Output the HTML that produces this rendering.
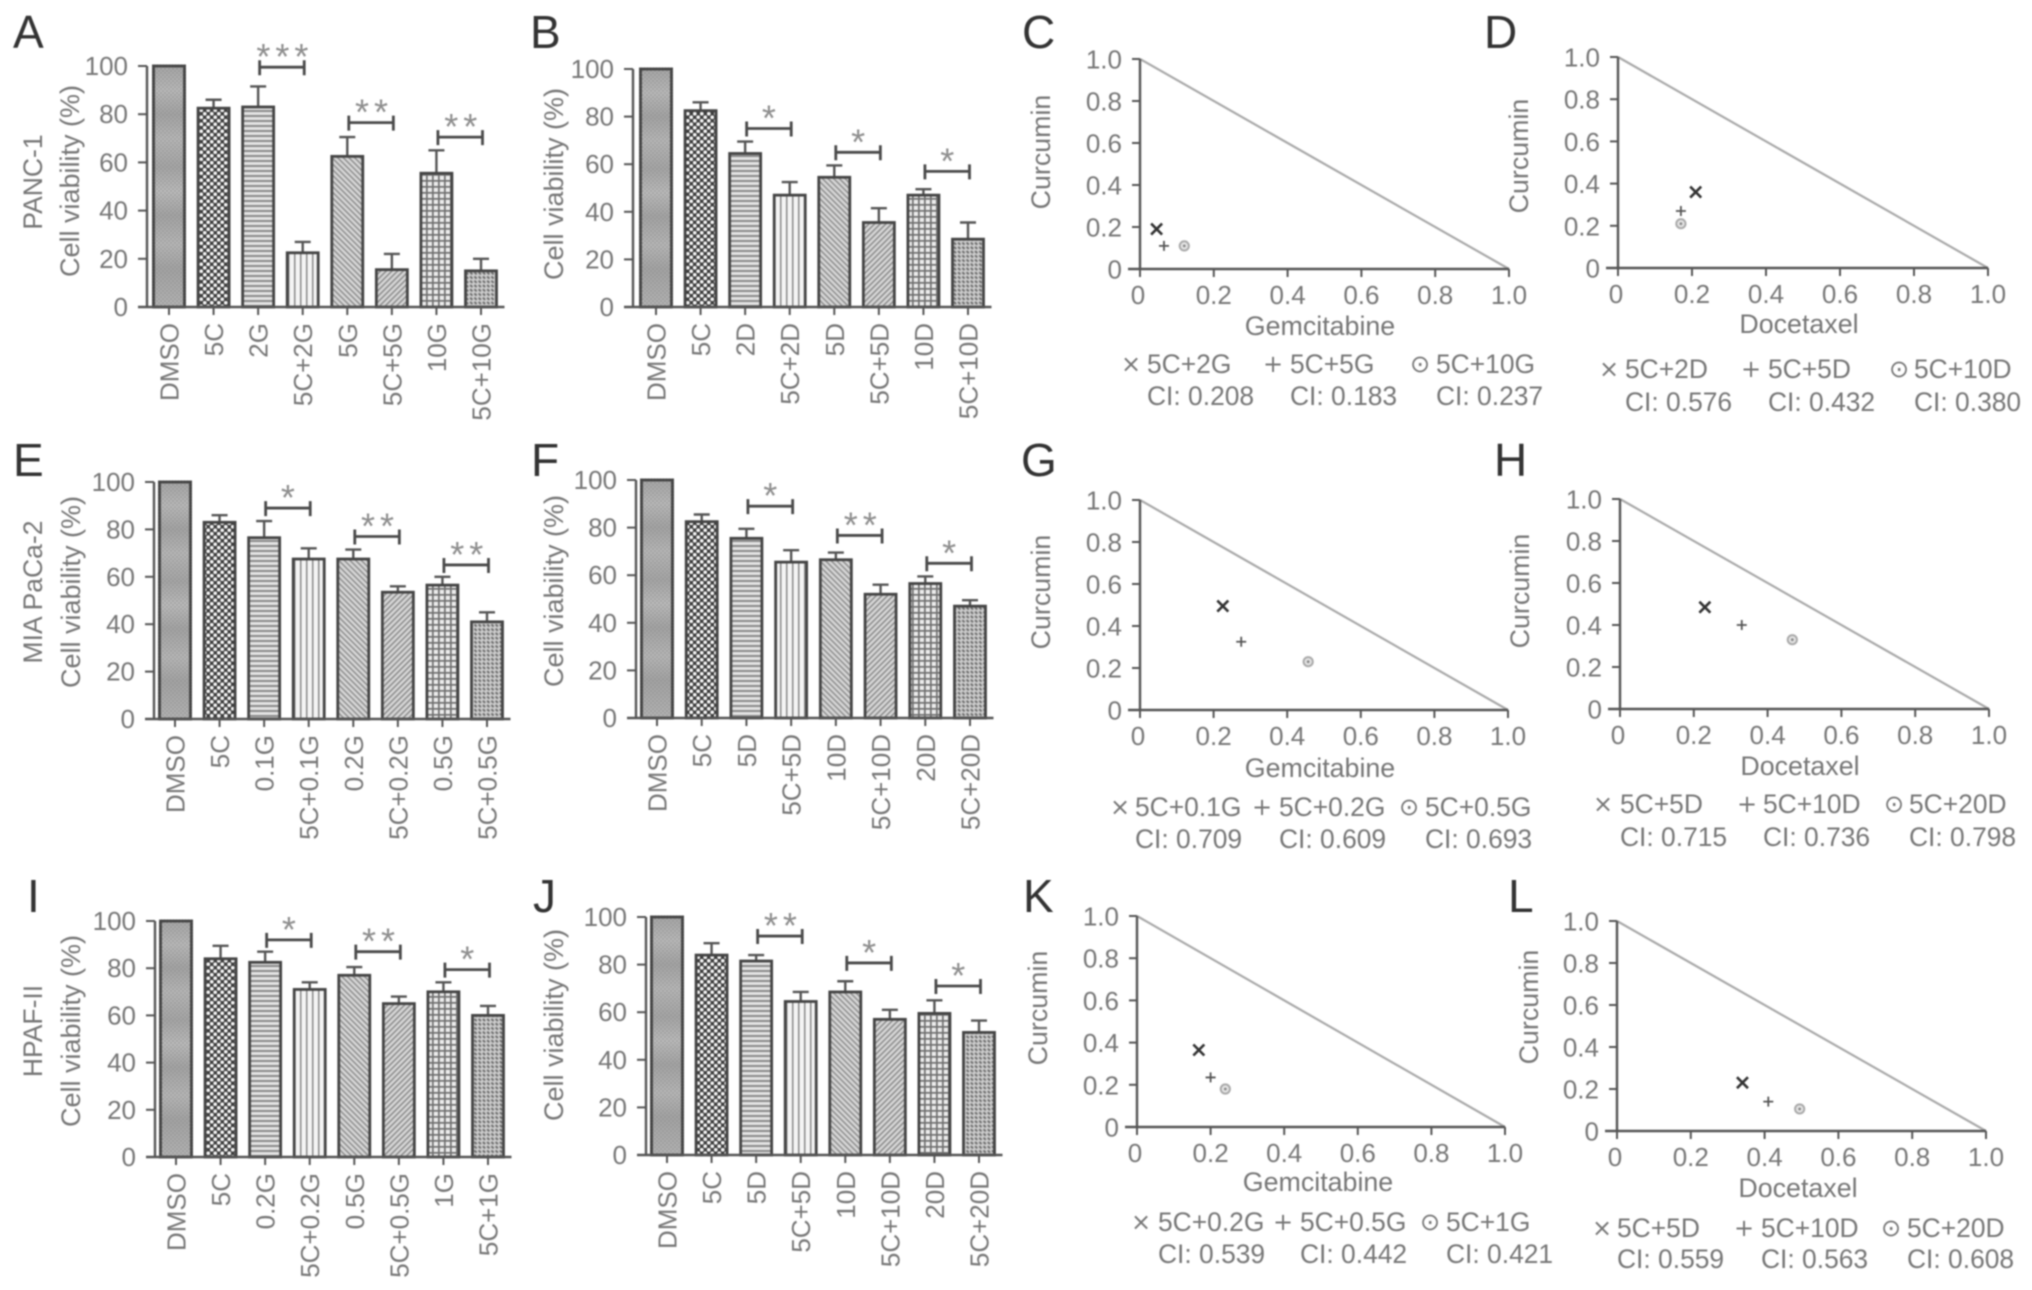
<!DOCTYPE html>
<html>
<head>
<meta charset="utf-8">
<title>Cell viability and combination index charts</title>
<style>
html,body{margin:0;padding:0;background:#fff;}
#figure{display:block;filter:blur(0.7px);}
text{font-family:"Liberation Sans",Arial,sans-serif;}
</style>
</head>
<body>
<svg id="figure" xmlns="http://www.w3.org/2000/svg" width="2032" height="1290" viewBox="0 0 2032 1290">
<defs>
<linearGradient id="p0g" x1="0" y1="0" x2="0" y2="1">
<stop offset="0" stop-color="#a8a8a8"/><stop offset="0.1" stop-color="#bcbcbc"/><stop offset="0.2" stop-color="#a6a6a6"/><stop offset="0.3" stop-color="#bababa"/><stop offset="0.42" stop-color="#a8a8a8"/><stop offset="0.52" stop-color="#bebebe"/><stop offset="0.62" stop-color="#a6a6a6"/><stop offset="0.74" stop-color="#bababa"/><stop offset="0.84" stop-color="#a6a6a6"/><stop offset="1" stop-color="#b6b6b6"/>
</linearGradient>
<pattern id="p0d" width="4" height="4" patternUnits="userSpaceOnUse"><rect width="2" height="2" fill="#666" fill-opacity="0.28"/><rect x="2" y="2" width="2" height="2" fill="#666" fill-opacity="0.28"/></pattern>
<pattern id="p1" width="7" height="7" patternUnits="userSpaceOnUse"><rect width="7" height="7" fill="#3c3c3c"/><circle cx="1.75" cy="1.75" r="1.9" fill="#f4f4f4"/><circle cx="5.25" cy="5.25" r="1.9" fill="#f4f4f4"/></pattern>
<pattern id="p2" width="5" height="5" patternUnits="userSpaceOnUse"><rect width="5" height="5" fill="#e2e2e2"/><rect y="0" width="5" height="2" fill="#8a8a8a"/></pattern>
<pattern id="p3" width="6" height="6" patternUnits="userSpaceOnUse"><rect width="6" height="6" fill="#f4f4f4"/><rect x="0" width="1.5" height="6" fill="#8a8a8a"/></pattern>
<pattern id="p4" width="4" height="4" patternUnits="userSpaceOnUse" patternTransform="rotate(45)"><rect width="4" height="4" fill="#d6d6d6"/><rect width="4" height="1.5" fill="#8f8f8f"/></pattern>
<pattern id="p5" width="4" height="4" patternUnits="userSpaceOnUse" patternTransform="rotate(-45)"><rect width="4" height="4" fill="#d6d6d6"/><rect width="4" height="1.5" fill="#8c8c8c"/></pattern>
<pattern id="p6" width="6" height="6" patternUnits="userSpaceOnUse"><rect width="6" height="6" fill="#ececec"/><rect width="6" height="1.7" fill="#707070"/><rect width="1.7" height="6" fill="#707070"/></pattern>
<pattern id="p7" width="6" height="6" patternUnits="userSpaceOnUse" patternTransform="rotate(45)"><rect width="6" height="6" fill="#cccccc"/><rect width="3" height="2" fill="#6e6e6e"/><rect x="3" y="3" width="3" height="2" fill="#6e6e6e"/></pattern>
</defs>
</svg>
<script>
// ---------- Shared axis labels ----------
const barTickLabels = [0, 20, 40, 60, 80, 100];
const triTickLabels = [0, 0.2, 0.4, 0.6, 0.8, 1.0];

// ---------- Panel A ----------
const categoriesA = ['DMSO','5C','2G','5C+2G','5G','5C+5G','10G','5C+10G'];
const valuesA = [100, 82.5, 83, 22.5, 62.5, 15.5, 55.5, 15];
const errorTopsA = [100, 86, 91.5, 27, 70.5, 22, 65, 20];
const bracketLevelsA = [99.5, 76.5, 70.5];
const bracketStarsA = ['***','**','**'];
// ---------- Panel B ----------
const categoriesB = ['DMSO','5C','2D','5C+2D','5D','5C+5D','10D','5C+10D'];
const valuesB = [100, 82.5, 64.5, 47, 54.5, 35.5, 47, 28.5];
const errorTopsB = [100, 86, 69.5, 52.5, 59.5, 41.5, 49.5, 35.5];
const bracketLevelsB = [75, 65, 57];
const bracketStarsB = ['*','*','*'];
// ---------- Panel E ----------
const categoriesE = ['DMSO','5C','0.1G','5C+0.1G','0.2G','5C+0.2G','0.5G','5C+0.5G'];
const valuesE = [100, 83, 76.5, 67.5, 67.5, 53.5, 56.5, 41];
const errorTopsE = [100, 86, 83.5, 72, 71.5, 56, 60, 45];
const bracketLevelsE = [89, 77, 65];
const bracketStarsE = ['*','**','**'];
// ---------- Panel F ----------
const categoriesF = ['DMSO','5C','5D','5C+5D','10D','5C+10D','20D','5C+20D'];
const valuesF = [100, 82.5, 75.5, 65.5, 66.5, 52, 56.5, 47];
const errorTopsF = [100, 85.5, 79.5, 70.5, 69.5, 56, 59.5, 49.5];
const bracketLevelsF = [89, 76.7, 65];
const bracketStarsF = ['*','**','*'];
// ---------- Panel I ----------
const categoriesI = ['DMSO','5C','0.2G','5C+0.2G','0.5G','5C+0.5G','1G','5C+1G'];
const valuesI = [100, 84, 82.5, 71, 77, 65, 70, 60];
const errorTopsI = [100, 89.5, 87, 74, 80.5, 68, 74, 64];
const bracketLevelsI = [92, 87, 79.4];
const bracketStarsI = ['*','**','*'];
// ---------- Panel J ----------
const categoriesJ = ['DMSO','5C','5D','5C+5D','10D','5C+10D','20D','5C+20D'];
const valuesJ = [100, 84, 81.5, 64.5, 68.5, 57, 59.5, 51.5];
const errorTopsJ = [100, 89, 84, 68.5, 73, 61, 65, 56.5];
const bracketLevelsJ = [92, 80.7, 71];
const bracketStarsJ = ['**','*','*'];

// ---------- Isobologram panels ----------
const comboNamesC = ['5C+2G','5C+5G','5C+10G'];
const ciValuesC = ['0.208','0.183','0.237'];
const gemDoseC = [0.045, 0.065, 0.12];
const curDoseC = [0.19, 0.11, 0.11];

const comboNamesD = ['5C+2D','5C+5D','5C+10D'];
const ciValuesD = ['0.576','0.432','0.380'];
const gemDoseD = [0.21, 0.17, 0.17];
const curDoseD = [0.36, 0.27, 0.21];

const comboNamesG = ['5C+0.1G','5C+0.2G','5C+0.5G'];
const ciValuesG = ['0.709','0.609','0.693'];
const gemDoseG = [0.225, 0.275, 0.457];
const curDoseG = [0.495, 0.325, 0.23];

const comboNamesH = ['5C+5D','5C+10D','5C+20D'];
const ciValuesH = ['0.715','0.736','0.798'];
const gemDoseH = [0.23, 0.33, 0.467];
const curDoseH = [0.485, 0.40, 0.33];

const comboNamesK = ['5C+0.2G','5C+0.5G','5C+1G'];
const ciValuesK = ['0.539','0.442','0.421'];
const gemDoseK = [0.168, 0.2, 0.24];
const curDoseK = [0.365, 0.235, 0.18];

const comboNamesL = ['5C+5D','5C+10D','5C+20D'];
const ciValuesL = ['0.559','0.563','0.608'];
const gemDoseL = [0.34, 0.41, 0.495];
const curDoseL = [0.23, 0.14, 0.105];

// ---------- Layout ----------
const barPanels = [
  {id:'A',cats:categoriesA,vals:valuesA,errs:errorTopsA,lev:bracketLevelsA,stars:bracketStarsA,ax:147,top:66,bot:307,c0:169,c7:481,letterX:13,letterY:48,titleX:79,titleY:181,cell:'PANC-1',cellX:42,cellY:182},
  {id:'B',cats:categoriesB,vals:valuesB,errs:errorTopsB,lev:bracketLevelsB,stars:bracketStarsB,ax:633,top:69,bot:307,c0:656,c7:968,letterX:530,letterY:48,titleX:563,titleY:184},
  {id:'E',cats:categoriesE,vals:valuesE,errs:errorTopsE,lev:bracketLevelsE,stars:bracketStarsE,ax:154,top:482,bot:719,c0:175,c7:487,letterX:13,letterY:476,titleX:80,titleY:592,cell:'MIA PaCa-2',cellX:42,cellY:592},
  {id:'F',cats:categoriesF,vals:valuesF,errs:errorTopsF,lev:bracketLevelsF,stars:bracketStarsF,ax:636,top:480,bot:718,c0:657,c7:970,letterX:531,letterY:476,titleX:563,titleY:591},
  {id:'I',cats:categoriesI,vals:valuesI,errs:errorTopsI,lev:bracketLevelsI,stars:bracketStarsI,ax:155,top:921,bot:1157,c0:176,c7:488,letterX:27,letterY:912,titleX:80,titleY:1031,cell:'HPAF-II',cellX:42,cellY:1031},
  {id:'J',cats:categoriesJ,vals:valuesJ,errs:errorTopsJ,lev:bracketLevelsJ,stars:bracketStarsJ,ax:646,top:917,bot:1155,c0:667,c7:979,letterX:533,letterY:912,titleX:563,titleY:1025}
];
const triPanels = [
  {id:'C',drug:'Gemcitabine',names:comboNamesC,ci:ciValuesC,xs:gemDoseC,ys:curDoseC,x0:1140,x1:1509,top:59,bot:269,letterX:1022,letterY:48,yLabX:1050,yLabY:152,xLabX:1320,xLabY:335,row1:373,row2:405,nameX:[1147,1290,1436],symX:[1131,1273,1420]},
  {id:'D',drug:'Docetaxel',names:comboNamesD,ci:ciValuesD,xs:gemDoseD,ys:curDoseD,x0:1618,x1:1988,top:57,bot:268,letterX:1484,letterY:48,yLabX:1528,yLabY:156,xLabX:1799,xLabY:333,row1:378,row2:411,nameX:[1625,1768,1914],symX:[1609,1751,1899]},
  {id:'G',drug:'Gemcitabine',names:comboNamesG,ci:ciValuesG,xs:gemDoseG,ys:curDoseG,x0:1140,x1:1508,top:500,bot:710,letterX:1021,letterY:476,yLabX:1050,yLabY:592,xLabX:1320,xLabY:777,row1:816,row2:848,nameX:[1135,1279,1425],symX:[1120,1262,1409]},
  {id:'H',drug:'Docetaxel',names:comboNamesH,ci:ciValuesH,xs:gemDoseH,ys:curDoseH,x0:1620,x1:1989,top:499,bot:709,letterX:1494,letterY:476,yLabX:1529,yLabY:591,xLabX:1800,xLabY:775,row1:813,row2:846,nameX:[1620,1763,1909],symX:[1603,1747,1894]},
  {id:'K',drug:'Gemcitabine',names:comboNamesK,ci:ciValuesK,xs:gemDoseK,ys:curDoseK,x0:1137,x1:1505,top:916,bot:1127,letterX:1023,letterY:912,yLabX:1047,yLabY:1008,xLabX:1318,xLabY:1191,row1:1231,row2:1263,nameX:[1158,1300,1446],symX:[1141,1283,1430]},
  {id:'L',drug:'Docetaxel',names:comboNamesL,ci:ciValuesL,xs:gemDoseL,ys:curDoseL,x0:1617,x1:1986,top:921,bot:1131,letterX:1508,letterY:912,yLabX:1538,yLabY:1007,xLabX:1798,xLabY:1197,row1:1237,row2:1268,nameX:[1617,1761,1907],symX:[1602,1744,1891]}
];

const svg = document.getElementById('figure');
const NS = 'http://www.w3.org/2000/svg';
function mk(tag, attrs, parent, txt) {
  const n = document.createElementNS(NS, tag);
  for (const k in attrs) n.setAttribute(k, attrs[k]);
  if (txt !== undefined) n.textContent = txt;
  parent.appendChild(n);
  return n;
}
const AXIS = '#555';
const LABEL = '#777';
const bracketPairs = [[2,3],[4,5],[6,7]];

function drawBarPanel(p) {
  const g = mk('g', {}, svg);
  
  
  const yScale = v => p.bot - (p.bot - p.top) * v / 100;
  const step = (p.c7 - p.c0) / (p.cats.length - 1);
  const xScale = i => p.c0 + step * i;
  const barW = 31;

  let el = mk('text', {x:p.letterX, y:p.letterY, 'font-size':46, fill:'#333'}, g, p.id);
  
  

  if (p.cell) {
    el = mk('text', {x:p.cellX, y:p.cellY, 'font-size':26.5, fill:LABEL, 'text-anchor':'middle', transform:'rotate(-90 '+p.cellX+' '+p.cellY+')'}, g, p.cell);
    
    
  }
  el = mk('text', {x:p.titleX, y:p.titleY, 'font-size':27, fill:LABEL, 'text-anchor':'middle', transform:'rotate(-90 '+p.titleX+' '+p.titleY+')'}, g, 'Cell viability (%)');
  
  

  p.vals.forEach((v, i) => {
    const x = xScale(i), y = yScale(v);
    if (i > 0) {
      const yt = yScale(p.errs[i]);
      let e = mk('path', {d:'M'+x+' '+y+'V'+yt+'M'+(x-8)+' '+yt+'H'+(x+8), stroke:AXIS, 'stroke-width':2.4, fill:'none'}, g);
      
      
    }
    const r = mk('rect', {x:x-barW/2, y:y, width:barW, height:p.bot-y, fill: i===0 ? 'url(#p0g)' : 'url(#p'+i+')', stroke:'#444', 'stroke-width':2.8}, g);
    
    
    if (i === 0) {
      const d = mk('rect', {x:x-barW/2, y:y, width:barW, height:p.bot-y, fill:'url(#p0d)', stroke:'#444', 'stroke-width':2.8, 'stroke-dasharray':'2 1'}, g);
      
      
    }

    const t = mk('path', {d:'M'+x+' '+p.bot+'v8', stroke:AXIS, 'stroke-width':2, fill:'none'}, g);
    
    

    const ly = p.bot + 16, lx = x + 9.5;
    const lab = mk('text', {x:lx, y:ly, 'font-size':26, fill:LABEL, 'text-anchor':'end', transform:'rotate(-90 '+lx+' '+ly+')'}, g, p.cats[i]);
    
    
  });

  let axis = mk('path', {d:'M'+p.ax+' '+p.top+'V'+p.bot, stroke:AXIS, 'stroke-width':2.4, fill:'none'}, g);
  
  
  axis = mk('path', {d:'M'+(p.ax-9)+' '+p.bot+'H'+(xScale(p.cats.length-1)+barW/2+8), stroke:AXIS, 'stroke-width':2.4, fill:'none'}, g);
  
  

  barTickLabels.forEach(v => {
    const y = yScale(v);
    const t = mk('path', {d:'M'+(p.ax-9)+' '+y+'H'+p.ax, stroke:AXIS, 'stroke-width':2, fill:'none'}, g);
    
    
    const l = mk('text', {x:p.ax-19, y:y+9, 'font-size':26, fill:LABEL, 'text-anchor':'end'}, g, String(v));
    
    
  });

  bracketPairs.forEach((pair, k) => {
    const xa = xScale(pair[0]) + 1.5, xb = xScale(pair[1]) + 1.5, y = yScale(p.lev[k]);
    const b = mk('path', {d:'M'+xa+' '+(y-7)+'V'+(y+8)+'M'+xa+' '+y+'H'+xb+'M'+xb+' '+(y-7)+'V'+(y+8), stroke:'#4a4a4a', 'stroke-width':2.8, fill:'none'}, g);
    
    
    const n = p.stars[k].length;
    const s = mk('text', {x:(xa+xb)/2 + (n>1?3:0), y:y+2, 'font-size':36, fill:'#8e8e8e', 'text-anchor':'middle', 'letter-spacing':n>1?'5px':'0'}, g, p.stars[k]);
    
    
  });
}

function drawTriPanel(p) {
  const g = mk('g', {}, svg);
  
  
  const xScale = v => p.x0 + (p.x1 - p.x0) * v;
  const yScale = v => p.bot - (p.bot - p.top) * v;

  let el = mk('text', {x:p.letterX, y:p.letterY, 'font-size':46, fill:'#333'}, g, p.id);
  
  

  el = mk('text', {x:p.yLabX, y:p.yLabY, 'font-size':26.8, fill:LABEL, 'text-anchor':'middle', transform:'rotate(-90 '+p.yLabX+' '+p.yLabY+')'}, g, 'Curcumin');
  
  
  el = mk('text', {x:p.xLabX, y:p.xLabY, 'font-size':26.8, fill:LABEL, 'text-anchor':'middle'}, g, p.drug);
  
  

  el = mk('path', {d:'M'+xScale(0)+' '+yScale(1)+'L'+xScale(1)+' '+yScale(0), stroke:'#aaaaaa', 'stroke-width':2.2, fill:'none'}, g);
  
  

  el = mk('path', {d:'M'+p.x0+' '+p.top+'V'+p.bot, stroke:AXIS, 'stroke-width':2.4, fill:'none'}, g);
  
  
  el = mk('path', {d:'M'+(p.x0-12)+' '+p.bot+'H'+p.x1, stroke:AXIS, 'stroke-width':2.4, fill:'none'}, g);
  
  

  triTickLabels.forEach(v => {
    const txt = v === 0 ? '0' : v.toFixed(1);
    const y = yScale(v), x = xScale(v);
    let t = mk('path', {d:'M'+(p.x0-8)+' '+y+'H'+p.x0, stroke:AXIS, 'stroke-width':2, fill:'none'}, g);
    
    
    let l = mk('text', {x:p.x0-18, y:y+9.5, 'font-size':26, fill:LABEL, 'text-anchor':'end'}, g, txt);
    
    
    t = mk('path', {d:'M'+x+' '+p.bot+'v8', stroke:AXIS, 'stroke-width':2, fill:'none'}, g);
    
    
    l = mk('text', {x:x + (v === 0 ? -2 : 0), y:p.bot+35, 'font-size':26, fill:LABEL, 'text-anchor':'middle'}, g, txt);
    
    
  });

  p.xs.forEach((vx, i) => {
    const cx = xScale(vx), cy = yScale(p.ys[i]);
    let m;
    if (i === 0) {
      m = mk('path', {d:'M'+(cx-5.5)+' '+(cy-5.5)+'L'+(cx+5.5)+' '+(cy+5.5)+'M'+(cx+5.5)+' '+(cy-5.5)+'L'+(cx-5.5)+' '+(cy+5.5), stroke:'#333', 'stroke-width':2.6, fill:'none'}, g);
    } else if (i === 1) {
      m = mk('path', {d:'M'+(cx-5)+' '+cy+'H'+(cx+5)+'M'+cx+' '+(cy-5)+'V'+(cy+5), stroke:'#555', 'stroke-width':1.8, fill:'none'}, g);
    } else {
      m = mk('circle', {cx:cx, cy:cy, r:4.6, stroke:'#aaa', 'stroke-width':2, fill:'#e4e4e4'}, g);
      const dot = mk('circle', {cx:cx, cy:cy, r:1.4, fill:'#888'}, g);
      
      
    }
    
    

    const symChar = ['\u00D7', '+', '\u2299'][i];
    const sy = mk('text', {x:p.symX[i], y:p.row1 - 1, 'font-size':24, fill:'#777', 'text-anchor':'middle', style:'font-family:"DejaVu Sans",sans-serif'}, g, symChar);
    
    
    const nm = mk('text', {x:p.nameX[i], y:p.row1, 'font-size':26.4, fill:LABEL}, g, p.names[i]);
    
    
    const ci = mk('text', {x:p.nameX[i], y:p.row2, 'font-size':26.4, fill:LABEL}, g, 'CI: ' + p.ci[i]);
    
    
  });
}

barPanels.forEach(drawBarPanel);
triPanels.forEach(drawTriPanel);
</script>
</body>
</html>
